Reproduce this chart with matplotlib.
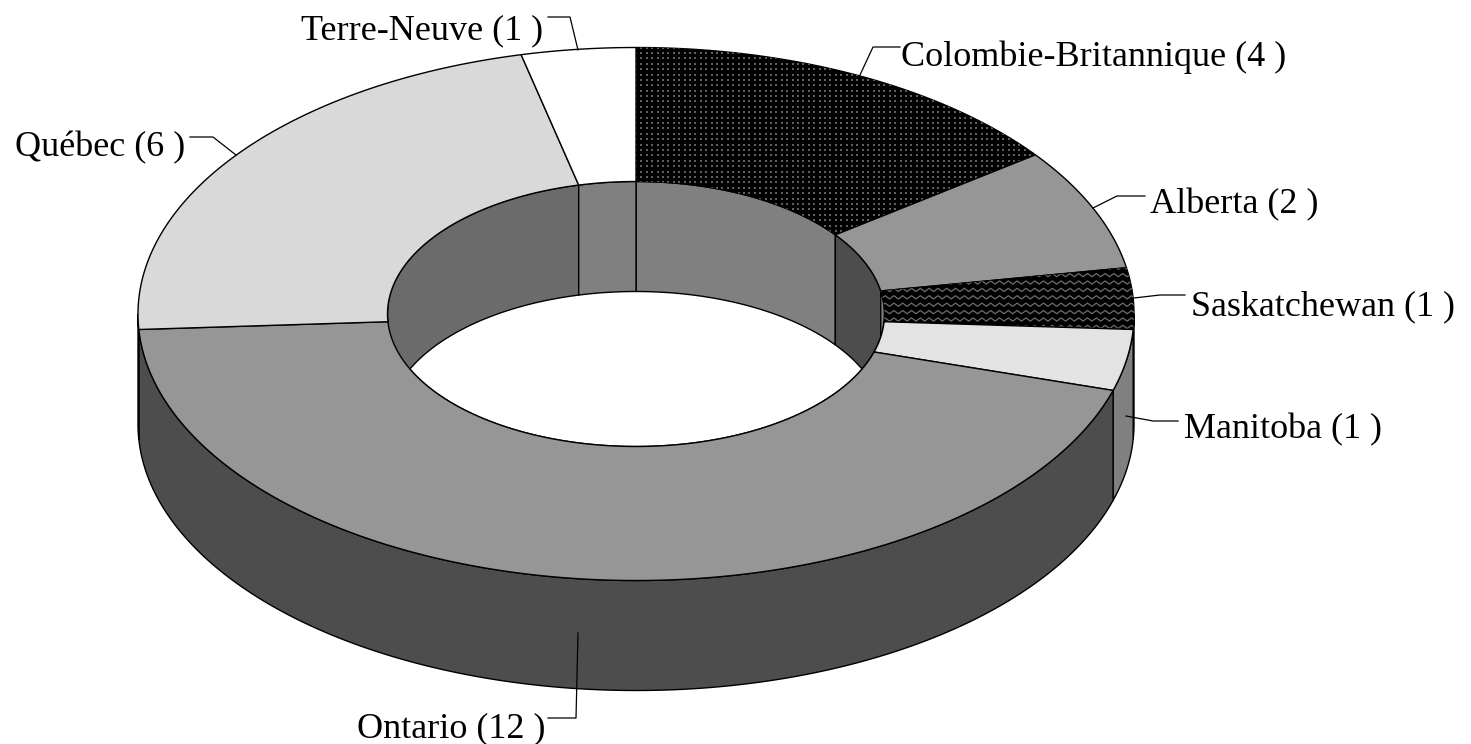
import numpy as np
import matplotlib
matplotlib.use('Agg')
import matplotlib.pyplot as plt
from matplotlib.patches import Polygon

# Chart data, clockwise from the top
provinces = ['Colombie-Britannique', 'Alberta', 'Saskatchewan', 'Manitoba', 'Ontario', 'Québec', 'Terre-Neuve']
counts = [4, 2, 1, 1, 12, 6, 1]

# Styles, one per slice
top_colors = ['#000000', '#969696', '#000000', '#e3e3e3', '#969696', '#d9d9d9', '#ffffff']
inner_colors = ['#808080', '#4d4d4d', '#808080', '#4d4d4d', '#6b6b6b', '#6b6b6b', '#808080']
outer_colors = ['#000000', '#969696', '#4d4d4d', '#808080', '#4d4d4d', '#6b6b6b', '#808080']
textures = ['dots', None, 'waves', None, None, None, None]

# Donut geometry in pixels
cx, cy = 636, 314
rx, ry = 498, 266.5
hole_rx, hole_ry = 248.5, 132.5
depth = 110

# Label text position and leader line for each slice
label_pos = [(901, 66), (1150, 213), (1191, 315), (1184, 438), (357, 737), (15, 156), (301, 39)]
leaders = [
    [(900, 47), (873, 47), (860, 75)],
    [(1145, 196), (1117, 196), (1093, 208)],
    [(1134, 298), (1160, 295), (1185, 295)],
    [(1126, 416), (1153, 421), (1178, 421)],
    [(578, 633), (576, 718), (548, 718)],
    [(190, 137), (213, 137), (236, 155)],
    [(548, 17), (570, 17), (578, 50)],
]


def arc(t1, t2, a, b, dy=0):
    # t is degrees clockwise from the top of the ellipse
    t = np.radians(np.linspace(t1, t2, max(int(abs(t2 - t1)) * 3, 2)))
    return np.column_stack([cx + a * np.sin(t), cy - b * np.cos(t) + dy])


def add_texture(ax, patch, kind):
    x1, y1 = patch.get_xy().min(axis=0)
    x2, y2 = patch.get_xy().max(axis=0)
    if kind == 'dots':
        gx, gy = np.meshgrid(np.arange(x1, x2, 5.4), np.arange(y1, y2, 5.4))
        dots = ax.scatter(gx.ravel(), gy.ravel(), s=0.6, marker='s', color='#606060', linewidths=0, zorder=patch.get_zorder())
        dots.set_clip_path(patch)
    else:
        for y in np.arange(y1, y2, 7.4):
            xs = np.arange(x1, x2 + 4, 4.4)
            ys = y + 1.6 * (-1.0) ** np.arange(len(xs))
            line, = ax.plot(xs, ys, color='#6e6e6e', lw=0.9, zorder=patch.get_zorder())
            line.set_clip_path(patch)


fig = plt.figure(figsize=(14.71, 7.44), dpi=100)
ax = fig.add_axes([0, 0, 1, 1])
ax.set_xlim(0, 1471)
ax.set_ylim(744, 0)
ax.axis('off')

edges = np.cumsum([0] + counts) / sum(counts) * 360

hole = Polygon(arc(0, 360, hole_rx, hole_ry), closed=True, transform=ax.transData, fc='none', ec='none')
ax.add_patch(hole)

for i in range(len(counts)):
    t1, t2 = edges[i], edges[i + 1]

    # outer wall, front half only
    a, b = max(t1, 90), min(t2, 270)
    if a < b:
        pts = np.vstack([arc(a, b, rx, ry), arc(b, a, rx, ry, depth)])
        ax.add_patch(Polygon(pts, closed=True, fc=outer_colors[i], ec='black', lw=1.0, zorder=1))

    # inner wall, the part seen through the hole
    pts = np.vstack([arc(t1, t2, hole_rx, hole_ry), arc(t2, t1, hole_rx, hole_ry, depth)])
    wall = Polygon(pts, closed=True, fc=inner_colors[i], ec='black', lw=1.0, zorder=2)
    ax.add_patch(wall)
    wall.set_clip_path(hole)

for i in range(len(counts)):
    t1, t2 = edges[i], edges[i + 1]

    # top face
    pts = np.vstack([arc(t1, t2, rx, ry), arc(t2, t1, hole_rx, hole_ry)])
    face = Polygon(pts, closed=True, fc=top_colors[i], ec='black', lw=1.0, zorder=3)
    ax.add_patch(face)
    if textures[i]:
        add_texture(ax, face, textures[i])

    line = np.array(leaders[i])
    ax.plot(line[:, 0], line[:, 1], color='black', lw=0.9, zorder=5)
    ax.text(label_pos[i][0], label_pos[i][1], f'{provinces[i]} ({counts[i]} )',
            family='Liberation Serif', fontsize=26, color='black', ha='left', va='baseline', zorder=6)

fig.savefig('out.png', dpi=100)
